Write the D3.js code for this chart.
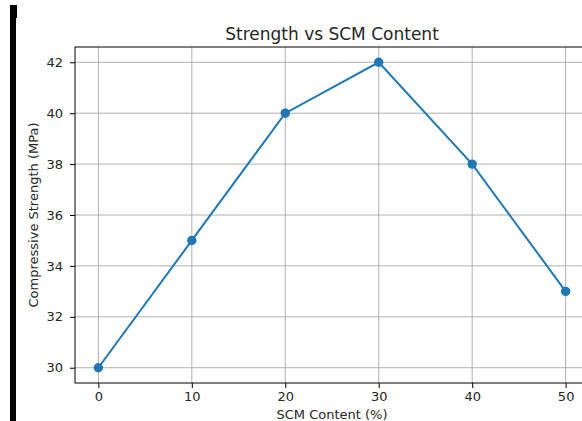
<!DOCTYPE html>
<html>
<head>
<meta charset="utf-8">
<script src="https://cdn.jsdelivr.net/npm/d3@7"></script>
<style>
  html, body { margin: 0; padding: 0; background: #fff; }
  svg { display: block; }
  text { font-family: "DejaVu Sans", sans-serif; fill: #262626; }
</style>
</head>
<body>
<svg id="chart" width="582" height="421"></svg>
<script>
const scmContent = [0, 10, 20, 30, 40, 50];
const strength = [30, 35, 40, 42, 38, 33];
const xTicks = [0, 10, 20, 30, 40, 50];
const yTicks = [30, 32, 34, 36, 38, 40, 42];
const titleText = "Strength vs SCM Content";
const xLabel = "SCM Content (%)";
const yLabel = "Compressive Strength (MPa)";

(function () {
const W = 582, H = 421;
const pL = 75, pR = 589, pT = 47, pB = 383;
const svg = d3.select("#chart");

svg.append("rect").attr("width", W).attr("height", H).attr("fill", "#fff");
// black bar at left edge
svg.append("rect").attr("x", 10).attr("y", 5).attr("width", 7).attr("height", 13).attr("fill", "#000");
svg.append("rect").attr("x", 10).attr("y", 5).attr("width", 6).attr("height", 416).attr("fill", "#000");

const xMin = d3.min(scmContent), xMax = d3.max(scmContent);
const yMin = d3.min(strength), yMax = d3.max(strength);
const xPad = (xMax - xMin) * 0.05, yPad = (yMax - yMin) * 0.05;
const x = d3.scaleLinear().domain([xMin - xPad, xMax + xPad]).range([pL, pR]);
const y = d3.scaleLinear().domain([yMin - yPad, yMax + yPad]).range([pB, pT]);

// grid
const grid = svg.append("g");
grid.selectAll(".vx").data(xTicks).enter().append("line")
  .attr("x1", d => x(d)).attr("x2", d => x(d)).attr("y1", pT).attr("y2", pB)
  .attr("stroke", "#b0b0b0").attr("stroke-width", 1);
grid.selectAll(".hy").data(yTicks).enter().append("line")
  .attr("y1", d => y(d)).attr("y2", d => y(d)).attr("x1", pL).attr("x2", pR)
  .attr("stroke", "#b0b0b0").attr("stroke-width", 1);

// axes
const xAxis = d3.axisBottom(x).tickValues(xTicks).tickSize(5).tickPadding(4).tickFormat(d3.format("d"));
const yAxis = d3.axisLeft(y).tickValues(yTicks).tickSize(5).tickPadding(7).tickFormat(d3.format("d"));
const gx = svg.append("g").attr("transform", `translate(0,${pB})`).call(xAxis);
const gy = svg.append("g").attr("transform", `translate(${pL},0)`).call(yAxis);
[gx, gy].forEach(g => {
  g.select(".domain").remove();
  g.selectAll(".tick line").attr("stroke", "#000").attr("stroke-width", 1);
  g.selectAll(".tick text").attr("font-size", 13).attr("font-family", "DejaVu Sans").attr("fill", "#262626");
});

// spines
svg.append("rect").attr("x", pL).attr("y", pT).attr("width", pR - pL).attr("height", pB - pT)
  .attr("fill", "none").attr("stroke", "#000").attr("stroke-width", 1);

// line + markers
const line = d3.line().x((d, i) => x(scmContent[i])).y(d => y(d));
svg.append("path").datum(strength).attr("d", line)
  .attr("fill", "none").attr("stroke", "#1f77b4").attr("stroke-width", 2);
svg.selectAll(".pt").data(strength).enter().append("circle")
  .attr("cx", (d, i) => x(scmContent[i])).attr("cy", d => y(d)).attr("r", 4.7)
  .attr("fill", "#1f77b4");

// labels
svg.append("text").attr("x", (pL + pR) / 2).attr("y", 40).attr("text-anchor", "middle")
  .attr("font-size", 17).text(titleText);
svg.append("text").attr("x", (pL + pR) / 2).attr("y", 419).attr("text-anchor", "middle")
  .attr("font-size", 13).text(xLabel);
svg.append("text").attr("transform", `translate(37.5,${(pT + pB) / 2}) rotate(-90)`)
  .attr("text-anchor", "middle").attr("font-size", 13).text(yLabel);
})();
</script>
</body>
</html>
